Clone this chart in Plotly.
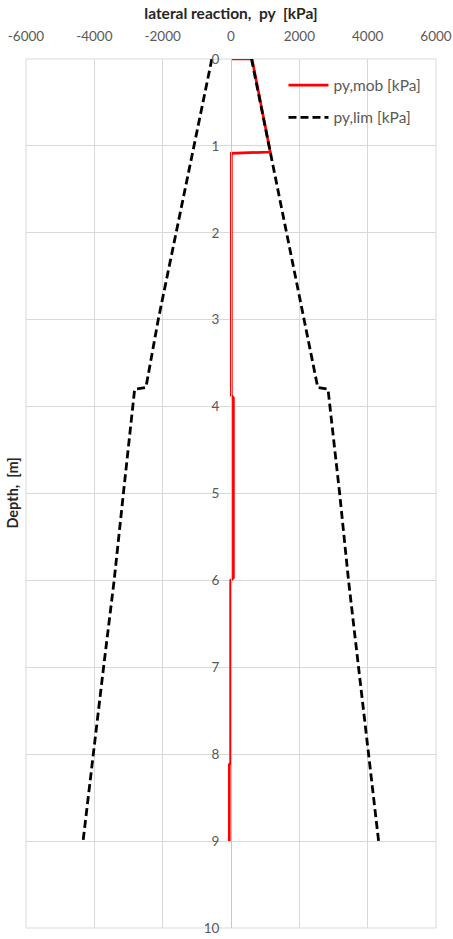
import plotly.graph_objects as go

# ---- data ----
mob_depth = [0, 0, 1.07, 1.085, 3.87, 3.9, 5.97, 6.0, 8.1, 8.12, 9.0]
mob_py = [0, 615, 1150, 10, 10, 70, 70, -10, -10, -50, -50]

lim_depth = [0, 1, 2, 3, 3.78, 3.8, 5, 6, 7, 8, 9]
lim_right = [600, 1110, 1630, 2120, 2540, 2840, 3180, 3440, 3740, 4030, 4320]
lim_left = [-560, -1080, -1620, -2130, -2490, -2820, -3150, -3420, -3730, -4030, -4330]

x_ticks = [-6000, -4000, -2000, 0, 2000, 4000, 6000]
x_tick_labels = ["-6000", "-4000", "-2000", "0", "2000", "4000", "6000"]
y_ticks = list(range(0, 11))

FONT = "Lato, 'Open Sans', sans-serif"

fig = go.Figure()
fig.add_trace(go.Scatter(x=mob_py, y=mob_depth, mode="lines", name="py,mob [kPa]",
                         line=dict(color="#ff0000", width=2.7)))
fig.add_trace(go.Scatter(x=lim_right, y=lim_depth, mode="lines", name="py,lim [kPa]",
                         legendgroup="lim",
                         line=dict(color="#000000", width=2.8, dash="8px,4px")))
fig.add_trace(go.Scatter(x=lim_left, y=lim_depth, mode="lines", name="py,lim [kPa]",
                         legendgroup="lim", showlegend=False,
                         line=dict(color="#000000", width=2.8, dash="8px,4px")))

fig.update_layout(
    width=453, height=939,
    margin=dict(l=26, r=17, t=59, b=11),
    paper_bgcolor="white", plot_bgcolor="white",
    font=dict(family=FONT, size=13.5, color="#595959"),
    showlegend=True,
    legend=dict(x=0.628, y=0.989, xanchor="left", yanchor="top",
                bgcolor="rgba(255,255,255,0)", font=dict(size=15.5, color="#595959"),
                tracegroupgap=9, itemwidth=40),
    xaxis=dict(range=[-6000, 6000], side="top", tickvals=x_ticks, ticktext=x_tick_labels,
               showgrid=True, gridcolor="#d9d9d9", gridwidth=1, zeroline=False,
               ticks="", showline=False, automargin=False, ticklabelstandoff=14,
               tickfont=dict(size=13.5, color="#595959"),
               title=dict(text="<b>lateral reaction,  py  [kPa]</b>",
                          font=dict(size=15.5, color="#262626"), standoff=4)),
    yaxis=dict(range=[10, 0], tickvals=y_ticks, anchor="free", position=0.5,
               showgrid=True, gridcolor="#d9d9d9", gridwidth=1, zeroline=False,
               showline=True, linecolor="#c8c8c8", linewidth=1, ticks="",
               ticklabelstandoff=9, automargin=False, title=None,
               tickfont=dict(size=13.5, color="#595959")),
    annotations=[dict(text="<b>Depth,  [m]</b>", textangle=-90, xref="paper", yref="paper",
                      x=-0.034, y=0.5, xanchor="center", yanchor="middle", showarrow=False,
                      font=dict(size=14.5, color="#262626"))],
    shapes=[dict(type="rect", xref="paper", yref="paper", x0=0, x1=1, y0=0, y1=1,
                 line=dict(color="#d9d9d9", width=1), layer="below")],
)

fig.write_html("out.html", config={"displayModeBar": False},
               post_script="document.body.style.margin='0';document.body.style.overflow='hidden';")
